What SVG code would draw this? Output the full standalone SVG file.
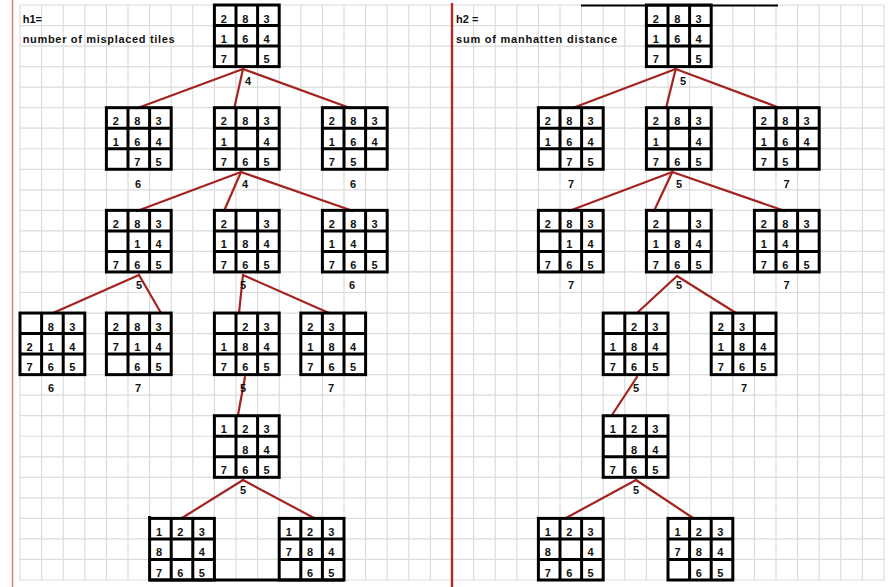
<svg xmlns="http://www.w3.org/2000/svg" xmlns:xlink="http://www.w3.org/1999/xlink" width="888" height="587" viewBox="0 0 888 587">
<style>
.grid{stroke:#dcdcdc;stroke-width:1.2;fill:none}
.fr{fill:none;stroke:#000;stroke-width:3}
text{font-family:"Liberation Sans",Arial,Helvetica,sans-serif;font-weight:bold;font-size:11px;fill:#111}
.c{text-anchor:middle}
.con line{stroke:#a3231f;stroke-width:2.2;stroke-linecap:round}
</style>
<defs>
<g id="f">
<rect class="fr" x="0" y="0" width="64.8" height="61.6"/>
<path class="fr" d="M21.6 0V61.6M43.2 0V61.6M0 20.536H64.8M0 41.07H64.8"/>
</g>
</defs>
<rect width="888" height="587" fill="#fff"/>
<path class="grid" d="M20 5V580M41.6 5V580M63.2 5V580M84.8 5V580M106.4 5V580M128 5V580M149.6 5V580M171.2 5V580M192.8 5V580M214.4 5V580M236 5V580M257.6 5V580M279.2 5V580M300.8 5V580M322.4 5V580M344 5V580M365.6 5V580M387.2 5V580M408.8 5V580M430.4 5V580M452 5V580M473.6 5V580M495.2 5V580M516.8 5V580M538.4 5V580M560 5V580M581.6 5V580M603.2 5V580M624.8 5V580M646.4 5V580M668 5V580M689.6 5V580M711.2 5V580M732.8 5V580M754.4 5V580M776 5V580M797.6 5V580M819.2 5V580M840.8 5V580M862.4 5V580M884 5V580
M20 5H884M20 25.54H884M20 46.07H884M20 66.61H884M20 87.14H884M20 107.68H884M20 128.22H884M20 148.75H884M20 169.29H884M20 189.82H884M20 210.36H884M20 230.9H884M20 251.43H884M20 271.97H884M20 292.5H884M20 313.04H884M20 333.58H884M20 354.11H884M20 374.65H884M20 395.18H884M20 415.72H884M20 436.26H884M20 456.79H884M20 477.33H884M20 497.86H884M20 518.4H884M20 538.94H884M20 559.47H884M20 580H884"/>
<line x1="12.5" y1="0" x2="12.5" y2="587" stroke="#cf7c7c" stroke-width="1.4"/>
<line x1="452" y1="3" x2="452" y2="587" stroke="#b02a2a" stroke-width="2.4"/>
<line x1="581" y1="5.5" x2="778" y2="5.5" stroke="#000" stroke-width="2"/>

<text x="22.7" y="22.5">h1=</text>
<text x="22.7" y="42.5" textLength="152" lengthAdjust="spacing">number of misplaced tiles</text>
<text x="456" y="22.5">h2 =</text>
<text x="456" y="42.5" textLength="161" lengthAdjust="spacing">sum of manhatten distance</text>

<g id="connectors" class="con">
<line x1="243" y1="69" x2="137.7" y2="108"/>
<line x1="243" y1="69" x2="234.3" y2="108"/>
<line x1="243" y1="69" x2="350" y2="108"/>
<line x1="241" y1="172" x2="137" y2="211"/>
<line x1="241" y1="172" x2="224" y2="211"/>
<line x1="241" y1="172" x2="353" y2="211"/>
<line x1="139" y1="275" x2="53" y2="313"/>
<line x1="139" y1="275" x2="161" y2="313"/>
<line x1="243" y1="275" x2="239" y2="313"/>
<line x1="243" y1="275" x2="329" y2="313"/>
<line x1="245" y1="377" x2="238" y2="415"/>
<line x1="243" y1="480" x2="182" y2="518"/>
<line x1="243" y1="480" x2="314" y2="518"/>
<line x1="675.7" y1="69" x2="572.7" y2="108"/>
<line x1="675.7" y1="69" x2="666" y2="108"/>
<line x1="675.7" y1="69" x2="780" y2="108"/>
<line x1="672.3" y1="172" x2="569" y2="211"/>
<line x1="672.3" y1="172" x2="654" y2="211"/>
<line x1="672.3" y1="172" x2="785" y2="211"/>
<line x1="677" y1="276" x2="637" y2="313"/>
<line x1="677" y1="276" x2="736" y2="313"/>
<line x1="637" y1="377" x2="612" y2="415"/>
<line x1="636" y1="480" x2="566" y2="518"/>
<line x1="636" y1="480" x2="693" y2="518"/>
</g>

<!-- left tree -->
<g id="L0" transform="translate(214.4,5)"><use xlink:href="#f"/><text class="c" x="9.5" y="17.7">2</text><text class="c" x="30.8" y="17.7">8</text><text class="c" x="52.2" y="17.7">3</text><text class="c" x="9.5" y="38">1</text><text class="c" x="30.8" y="38">6</text><text class="c" x="52.2" y="38">4</text><text class="c" x="9.5" y="58.4">7</text><text class="c" x="52.2" y="58.4">5</text></g>
<g id="L1a" transform="translate(106.4,107.68)"><use xlink:href="#f"/><text class="c" x="9.5" y="17.7">2</text><text class="c" x="30.8" y="17.7">8</text><text class="c" x="52.2" y="17.7">3</text><text class="c" x="9.5" y="38">1</text><text class="c" x="30.8" y="38">6</text><text class="c" x="52.2" y="38">4</text><text class="c" x="30.8" y="58.4">7</text><text class="c" x="52.2" y="58.4">5</text></g>
<g id="L1b" transform="translate(214.4,107.68)"><use xlink:href="#f"/><text class="c" x="9.5" y="17.7">2</text><text class="c" x="30.8" y="17.7">8</text><text class="c" x="52.2" y="17.7">3</text><text class="c" x="9.5" y="38">1</text><text class="c" x="52.2" y="38">4</text><text class="c" x="9.5" y="58.4">7</text><text class="c" x="30.8" y="58.4">6</text><text class="c" x="52.2" y="58.4">5</text></g>
<g id="L1c" transform="translate(322.4,107.68)"><use xlink:href="#f"/><text class="c" x="9.5" y="17.7">2</text><text class="c" x="30.8" y="17.7">8</text><text class="c" x="52.2" y="17.7">3</text><text class="c" x="9.5" y="38">1</text><text class="c" x="30.8" y="38">6</text><text class="c" x="52.2" y="38">4</text><text class="c" x="9.5" y="58.4">7</text><text class="c" x="30.8" y="58.4">5</text></g>
<g id="L2a" transform="translate(106.4,210.36)"><use xlink:href="#f"/><text class="c" x="9.5" y="17.7">2</text><text class="c" x="30.8" y="17.7">8</text><text class="c" x="52.2" y="17.7">3</text><text class="c" x="30.8" y="38">1</text><text class="c" x="52.2" y="38">4</text><text class="c" x="9.5" y="58.4">7</text><text class="c" x="30.8" y="58.4">6</text><text class="c" x="52.2" y="58.4">5</text></g>
<g id="L2b" transform="translate(214.4,210.36)"><use xlink:href="#f"/><text class="c" x="9.5" y="17.7">2</text><text class="c" x="52.2" y="17.7">3</text><text class="c" x="9.5" y="38">1</text><text class="c" x="30.8" y="38">8</text><text class="c" x="52.2" y="38">4</text><text class="c" x="9.5" y="58.4">7</text><text class="c" x="30.8" y="58.4">6</text><text class="c" x="52.2" y="58.4">5</text></g>
<g id="L2c" transform="translate(322.4,210.36)"><use xlink:href="#f"/><text class="c" x="9.5" y="17.7">2</text><text class="c" x="30.8" y="17.7">8</text><text class="c" x="52.2" y="17.7">3</text><text class="c" x="9.5" y="38">1</text><text class="c" x="30.8" y="38">4</text><text class="c" x="9.5" y="58.4">7</text><text class="c" x="30.8" y="58.4">6</text><text class="c" x="52.2" y="58.4">5</text></g>
<g id="L3a" transform="translate(20,313.04)"><use xlink:href="#f"/><text class="c" x="30.8" y="17.7">8</text><text class="c" x="52.2" y="17.7">3</text><text class="c" x="9.5" y="38">2</text><text class="c" x="30.8" y="38">1</text><text class="c" x="52.2" y="38">4</text><text class="c" x="9.5" y="58.4">7</text><text class="c" x="30.8" y="58.4">6</text><text class="c" x="52.2" y="58.4">5</text></g>
<g id="L3b" transform="translate(106.4,313.04)"><use xlink:href="#f"/><text class="c" x="9.5" y="17.7">2</text><text class="c" x="30.8" y="17.7">8</text><text class="c" x="52.2" y="17.7">3</text><text class="c" x="9.5" y="38">7</text><text class="c" x="30.8" y="38">1</text><text class="c" x="52.2" y="38">4</text><text class="c" x="30.8" y="58.4">6</text><text class="c" x="52.2" y="58.4">5</text></g>
<g id="L3c" transform="translate(214.4,313.04)"><use xlink:href="#f"/><text class="c" x="30.8" y="17.7">2</text><text class="c" x="52.2" y="17.7">3</text><text class="c" x="9.5" y="38">1</text><text class="c" x="30.8" y="38">8</text><text class="c" x="52.2" y="38">4</text><text class="c" x="9.5" y="58.4">7</text><text class="c" x="30.8" y="58.4">6</text><text class="c" x="52.2" y="58.4">5</text></g>
<g id="L3d" transform="translate(300.8,313.04)"><use xlink:href="#f"/><text class="c" x="9.5" y="17.7">2</text><text class="c" x="30.8" y="17.7">3</text><text class="c" x="9.5" y="38">1</text><text class="c" x="30.8" y="38">8</text><text class="c" x="52.2" y="38">4</text><text class="c" x="9.5" y="58.4">7</text><text class="c" x="30.8" y="58.4">6</text><text class="c" x="52.2" y="58.4">5</text></g>
<g id="L4" transform="translate(214.4,415.72)"><use xlink:href="#f"/><text class="c" x="9.5" y="17.7">1</text><text class="c" x="30.8" y="17.7">2</text><text class="c" x="52.2" y="17.7">3</text><text class="c" x="30.8" y="38">8</text><text class="c" x="52.2" y="38">4</text><text class="c" x="9.5" y="58.4">7</text><text class="c" x="30.8" y="58.4">6</text><text class="c" x="52.2" y="58.4">5</text></g>
<g id="L5a" transform="translate(149.6,518.4)"><use xlink:href="#f"/><text class="c" x="9.5" y="17.7">1</text><text class="c" x="30.8" y="17.7">2</text><text class="c" x="52.2" y="17.7">3</text><text class="c" x="9.5" y="38">8</text><text class="c" x="52.2" y="38">4</text><text class="c" x="9.5" y="58.4">7</text><text class="c" x="30.8" y="58.4">6</text><text class="c" x="52.2" y="58.4">5</text></g>
<g id="L5b" transform="translate(279.2,518.4)"><use xlink:href="#f"/><text class="c" x="9.5" y="17.7">1</text><text class="c" x="30.8" y="17.7">2</text><text class="c" x="52.2" y="17.7">3</text><text class="c" x="9.5" y="38">7</text><text class="c" x="30.8" y="38">8</text><text class="c" x="52.2" y="38">4</text><text class="c" x="30.8" y="58.4">6</text><text class="c" x="52.2" y="58.4">5</text></g>
<path d="M149.6 580H344M149.6 516V519" stroke="#000" stroke-width="3" fill="none"/>

<!-- right tree -->
<g id="R0" transform="translate(646.4,5)"><use xlink:href="#f"/><text class="c" x="9.5" y="17.7">2</text><text class="c" x="30.8" y="17.7">8</text><text class="c" x="52.2" y="17.7">3</text><text class="c" x="9.5" y="38">1</text><text class="c" x="30.8" y="38">6</text><text class="c" x="52.2" y="38">4</text><text class="c" x="9.5" y="58.4">7</text><text class="c" x="52.2" y="58.4">5</text></g>
<g id="R1a" transform="translate(538.4,107.68)"><use xlink:href="#f"/><text class="c" x="9.5" y="17.7">2</text><text class="c" x="30.8" y="17.7">8</text><text class="c" x="52.2" y="17.7">3</text><text class="c" x="9.5" y="38">1</text><text class="c" x="30.8" y="38">6</text><text class="c" x="52.2" y="38">4</text><text class="c" x="30.8" y="58.4">7</text><text class="c" x="52.2" y="58.4">5</text></g>
<g id="R1b" transform="translate(646.4,107.68)"><use xlink:href="#f"/><text class="c" x="9.5" y="17.7">2</text><text class="c" x="30.8" y="17.7">8</text><text class="c" x="52.2" y="17.7">3</text><text class="c" x="9.5" y="38">1</text><text class="c" x="52.2" y="38">4</text><text class="c" x="9.5" y="58.4">7</text><text class="c" x="30.8" y="58.4">6</text><text class="c" x="52.2" y="58.4">5</text></g>
<g id="R1c" transform="translate(754.4,107.68)"><use xlink:href="#f"/><text class="c" x="9.5" y="17.7">2</text><text class="c" x="30.8" y="17.7">8</text><text class="c" x="52.2" y="17.7">3</text><text class="c" x="9.5" y="38">1</text><text class="c" x="30.8" y="38">6</text><text class="c" x="52.2" y="38">4</text><text class="c" x="9.5" y="58.4">7</text><text class="c" x="30.8" y="58.4">5</text></g>
<g id="R2a" transform="translate(538.4,210.36)"><use xlink:href="#f"/><text class="c" x="9.5" y="17.7">2</text><text class="c" x="30.8" y="17.7">8</text><text class="c" x="52.2" y="17.7">3</text><text class="c" x="30.8" y="38">1</text><text class="c" x="52.2" y="38">4</text><text class="c" x="9.5" y="58.4">7</text><text class="c" x="30.8" y="58.4">6</text><text class="c" x="52.2" y="58.4">5</text></g>
<g id="R2b" transform="translate(646.4,210.36)"><use xlink:href="#f"/><text class="c" x="9.5" y="17.7">2</text><text class="c" x="52.2" y="17.7">3</text><text class="c" x="9.5" y="38">1</text><text class="c" x="30.8" y="38">8</text><text class="c" x="52.2" y="38">4</text><text class="c" x="9.5" y="58.4">7</text><text class="c" x="30.8" y="58.4">6</text><text class="c" x="52.2" y="58.4">5</text></g>
<g id="R2c" transform="translate(754.4,210.36)"><use xlink:href="#f"/><text class="c" x="9.5" y="17.7">2</text><text class="c" x="30.8" y="17.7">8</text><text class="c" x="52.2" y="17.7">3</text><text class="c" x="9.5" y="38">1</text><text class="c" x="30.8" y="38">4</text><text class="c" x="9.5" y="58.4">7</text><text class="c" x="30.8" y="58.4">6</text><text class="c" x="52.2" y="58.4">5</text></g>
<g id="R3a" transform="translate(603.2,313.04)"><use xlink:href="#f"/><text class="c" x="30.8" y="17.7">2</text><text class="c" x="52.2" y="17.7">3</text><text class="c" x="9.5" y="38">1</text><text class="c" x="30.8" y="38">8</text><text class="c" x="52.2" y="38">4</text><text class="c" x="9.5" y="58.4">7</text><text class="c" x="30.8" y="58.4">6</text><text class="c" x="52.2" y="58.4">5</text></g>
<g id="R3b" transform="translate(711.2,313.04)"><use xlink:href="#f"/><text class="c" x="9.5" y="17.7">2</text><text class="c" x="30.8" y="17.7">3</text><text class="c" x="9.5" y="38">1</text><text class="c" x="30.8" y="38">8</text><text class="c" x="52.2" y="38">4</text><text class="c" x="9.5" y="58.4">7</text><text class="c" x="30.8" y="58.4">6</text><text class="c" x="52.2" y="58.4">5</text></g>
<g id="R4" transform="translate(603.2,415.72)"><use xlink:href="#f"/><text class="c" x="9.5" y="17.7">1</text><text class="c" x="30.8" y="17.7">2</text><text class="c" x="52.2" y="17.7">3</text><text class="c" x="30.8" y="38">8</text><text class="c" x="52.2" y="38">4</text><text class="c" x="9.5" y="58.4">7</text><text class="c" x="30.8" y="58.4">6</text><text class="c" x="52.2" y="58.4">5</text></g>
<g id="R5a" transform="translate(538.4,518.4)"><use xlink:href="#f"/><text class="c" x="9.5" y="17.7">1</text><text class="c" x="30.8" y="17.7">2</text><text class="c" x="52.2" y="17.7">3</text><text class="c" x="9.5" y="38">8</text><text class="c" x="52.2" y="38">4</text><text class="c" x="9.5" y="58.4">7</text><text class="c" x="30.8" y="58.4">6</text><text class="c" x="52.2" y="58.4">5</text></g>
<g id="R5b" transform="translate(668,518.4)"><use xlink:href="#f"/><text class="c" x="9.5" y="17.7">1</text><text class="c" x="30.8" y="17.7">2</text><text class="c" x="52.2" y="17.7">3</text><text class="c" x="9.5" y="38">7</text><text class="c" x="30.8" y="38">8</text><text class="c" x="52.2" y="38">4</text><text class="c" x="30.8" y="58.4">6</text><text class="c" x="52.2" y="58.4">5</text></g>

<g id="labels">
<text class="c" x="248" y="84.5">4</text>
<text class="c" x="138" y="187.5">6</text>
<text class="c" x="245" y="187.5">4</text>
<text class="c" x="353" y="187.5">6</text>
<text class="c" x="139" y="289">5</text>
<text class="c" x="243" y="289">5</text>
<text class="c" x="352" y="289">6</text>
<text class="c" x="51" y="391.5">6</text>
<text class="c" x="138" y="391.5">7</text>
<text class="c" x="243" y="391.5">5</text>
<text class="c" x="331" y="391.5">7</text>
<text class="c" x="243" y="494">5</text>
<text class="c" x="683" y="84.5">5</text>
<text class="c" x="571" y="187.5">7</text>
<text class="c" x="679" y="187.5">5</text>
<text class="c" x="786.5" y="187.5">7</text>
<text class="c" x="571" y="289">7</text>
<text class="c" x="679" y="289">5</text>
<text class="c" x="786.5" y="289">7</text>
<text class="c" x="636" y="391.5">5</text>
<text class="c" x="744" y="391.5">7</text>
<text class="c" x="636" y="494">5</text>
</g>
</svg>
